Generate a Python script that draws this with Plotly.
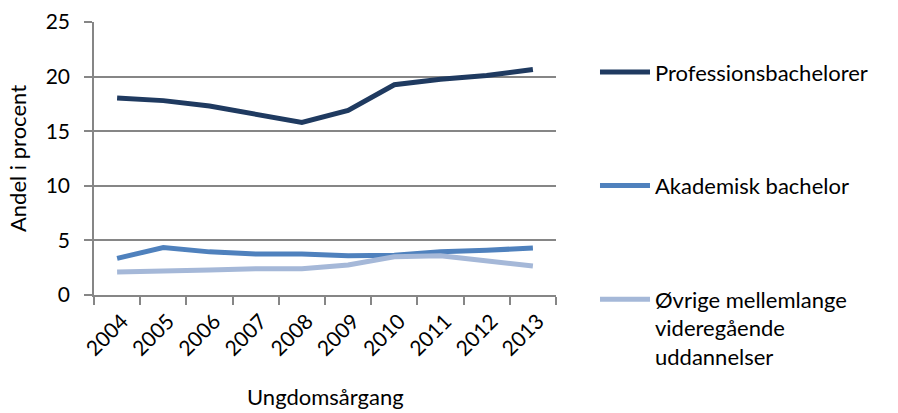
import plotly.graph_objects as go

years = ["2004", "2005", "2006", "2007", "2008", "2009", "2010", "2011", "2012", "2013"]
professions = [18.05, 17.8, 17.3, 16.5, 15.8, 16.9, 19.25, 19.75, 20.1, 20.65]
akademisk = [3.35, 4.35, 3.95, 3.75, 3.75, 3.6, 3.65, 3.95, 4.1, 4.3]
oevrige = [2.1, 2.15, 2.3, 2.4, 2.4, 2.75, 3.5, 3.6, 3.1, 2.65]

names = ["Professionsbachelorer", "Akademisk bachelor",
         "Øvrige mellemlange<br>videregående<br>uddannelser"]
colors = ["#1F3A60", "#4F81BD", "#A5B8D8"]
FONT = "Lato"

fig = go.Figure()
for i, (vals, nm, c) in enumerate(zip([professions, akademisk, oevrige], names, colors)):
    fig.add_trace(go.Scatter(x=years, y=vals, mode="lines", name=nm,
                             legendgroup=f"g{i}",
                             line=dict(color=c, width=5)))

fig.update_layout(
    width=898, height=413,
    margin=dict(l=94, r=342, t=22, b=118, autoexpand=False),
    paper_bgcolor="white", plot_bgcolor="white",
    font=dict(family=FONT, size=22, color="#000000"),
    showlegend=True,
    legend=dict(x=1.0844, y=0.893, xanchor="left", yanchor="top",
                traceorder="grouped", tracegroupgap=82, valign="top",
                font=dict(family=FONT, size=22, color="#000000"),
                itemwidth=50, bgcolor="rgba(0,0,0,0)", maxheight=413),
    xaxis=dict(type="category", tickangle=-45, showgrid=False,
               showline=True, linecolor="#868686", linewidth=1.5,
               ticks="outside", tickson="boundaries", ticklen=8,
               tickcolor="#868686", tickwidth=1.5,
               ticklabelshift=5, ticklabelstandoff=4,
               tickfont=dict(family=FONT, size=21),
               range=[-0.5, 9.5]),
    yaxis=dict(range=[0, 25], dtick=5, showgrid=True, gridcolor="#868686",
               gridwidth=1.5, showline=True, linecolor="#868686", linewidth=1.5,
               ticks="outside", ticklen=8, tickcolor="#868686", tickwidth=1.5,
               ticklabelstandoff=10,
               zeroline=False, tickfont=dict(family=FONT, size=21),
               title=dict(text="Andel i procent", font=dict(family=FONT, size=22),
                          standoff=13)),
)
fig.add_annotation(text="Ungdomsårgang", xref="paper", yref="paper",
                   x=0.5, y=-0.37, xanchor="center", yanchor="middle",
                   showarrow=False, font=dict(family=FONT, size=22))

fig.write_html("out.html", config={"displayModeBar": False},
               post_script="document.body.style.margin='0';")
